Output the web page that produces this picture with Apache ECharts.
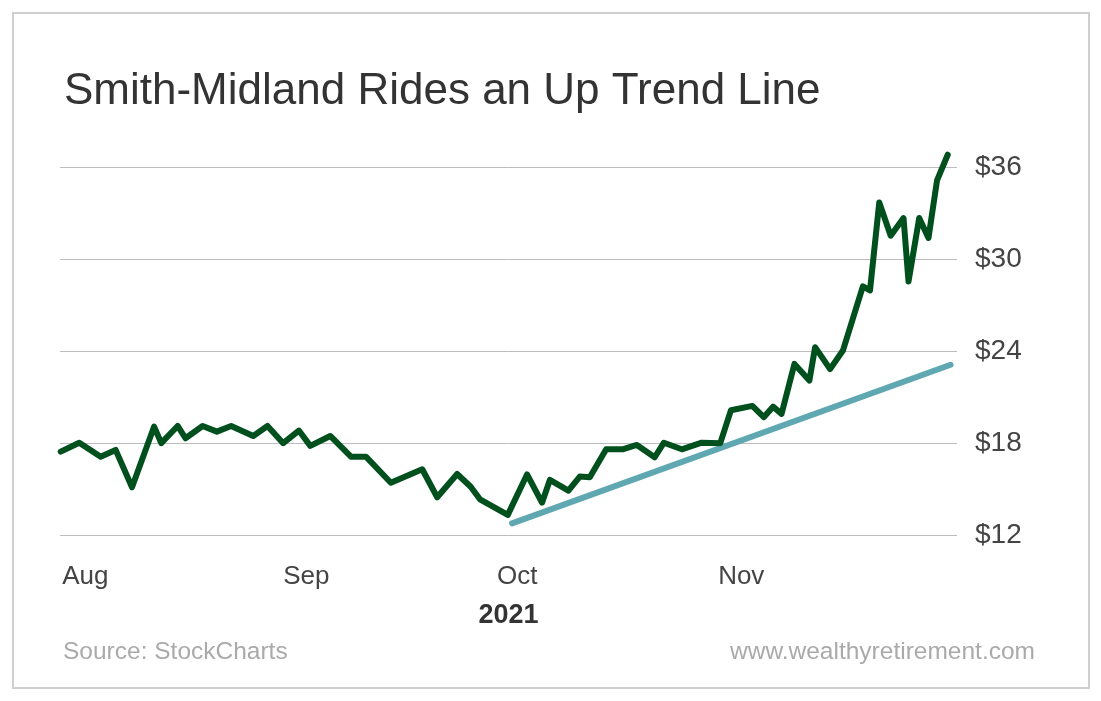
<!DOCTYPE html>
<html>
<head>
<meta charset="utf-8">
<script src="https://cdn.jsdelivr.net/npm/echarts@6/dist/echarts.min.js"></script>
<style>
html,body{margin:0;padding:0;background:#fff;}
#chart{width:1101px;height:701px;}
</style>
</head>
<body>
<div id="chart"></div>
<script>
// Days since Aug 1, 2021
const days = [-0.2, 2.4, 5.4, 7.5, 9.8, 12.9, 13.9, 16.2, 17.3, 19.7, 21.7, 23.7, 26.8, 28.8, 31.0, 33.2, 34.8, 37.6, 40.5, 42.6, 46.1, 50.5, 52.6, 55.4, 57.3, 58.6, 62.5, 65.2, 67.3, 68.4, 71.0, 72.6, 74.0, 76.3, 78.6, 80.6, 83.1, 84.4, 86.9, 89.7, 92.3, 93.8, 96.8, 98.4, 99.7, 100.9, 102.7, 104.8, 105.6, 107.7, 109.5, 112.3, 113.3, 114.6, 116.2, 118.0, 118.7, 120.2, 121.5, 122.7, 124.2];
const prices = [17.44, 18.02, 17.11, 17.55, 15.11, 19.07, 17.99, 19.11, 18.31, 19.11, 18.74, 19.11, 18.46, 19.11, 17.99, 18.81, 17.81, 18.46, 17.11, 17.11, 15.41, 16.29, 14.46, 15.98, 15.15, 14.33, 13.31, 15.95, 14.11, 15.59, 14.89, 15.81, 15.77, 17.59, 17.59, 17.87, 17.07, 18.02, 17.59, 18.02, 17.99, 20.14, 20.42, 19.68, 20.37, 19.90, 23.16, 22.07, 24.25, 22.82, 24.03, 28.21, 27.95, 33.69, 31.52, 32.67, 28.53, 32.67, 31.37, 35.13, 36.80];
const trendDays = [63.1, 124.6];
const trendPrices = [12.76, 23.10];
const monthTicks = [0, 31, 61, 92];
const monthLabels = ['Aug', 'Sep', 'Oct', 'Nov'];
const yearLabel = '2021';
const yTicks = [12, 18, 24, 30, 36];

const chart = echarts.init(document.getElementById('chart'));
const lineData = days.map((d, i) => [d, prices[i]]);
const trendData = trendDays.map((d, i) => [d, trendPrices[i]]);

chart.setOption({
  backgroundColor: '#fff',
  animation: false,
  title: [
    { text: 'Smith-Midland Rides an Up Trend Line', left: 59, top: 65,
      textStyle: { fontFamily: 'Liberation Sans', fontSize: 44, fontWeight: 'normal', color: '#333' } },
    { text: 'Source: StockCharts', left: 58, top: 635,
      textStyle: { fontFamily: 'Liberation Sans', fontSize: 24.5, fontWeight: 'normal', color: '#aaa' } },
    { text: 'www.wealthyretirement.com', right: 61, top: 635,
      textStyle: { fontFamily: 'Liberation Sans', fontSize: 24.5, fontWeight: 'normal', color: '#aaa' } }
  ],
  graphic: [
    { type: 'rect', shape: { x: 13, y: 13, width: 1076, height: 675 },
      style: { fill: 'none', stroke: '#cfcfcf', lineWidth: 2 }, silent: true }
  ],
  grid: { left: 60, right: 144, top: 167, bottom: 166 },
  xAxis: {
    type: 'value', min: -0.3, max: 125.5,
    name: yearLabel, nameLocation: 'middle', nameGap: 67,
    nameTextStyle: { fontFamily: 'Liberation Sans', fontSize: 27, fontWeight: 'bold', color: '#333' },
    axisLine: { show: false }, axisTick: { show: false }, splitLine: { show: false },
    axisLabel: {
      customValues: monthTicks,
      formatter: v => monthLabels[monthTicks.indexOf(v)] || '',
      align: 'left', margin: 29,
      fontFamily: 'Liberation Sans', fontSize: 26, color: '#444'
    }
  },
  yAxis: {
    type: 'value', position: 'right', min: 12, max: 36, interval: 6,
    axisLine: { show: false }, axisTick: { show: false },
    splitLine: { lineStyle: { color: '#bdbdbd', width: 1 } },
    axisLabel: {
      formatter: v => yTicks.includes(v) ? '$' + v : '',
      margin: 18, fontFamily: 'Liberation Sans', fontSize: 28, color: '#444',
      padding: [8, 0, 0, 0]
    }
  },
  series: [
    { type: 'line', data: trendData, symbol: 'none', clip: false,
      lineStyle: { color: '#5fa8b1', width: 6, cap: 'round' }, z: 2 },
    { type: 'line', data: lineData, symbol: 'none', clip: false,
      lineStyle: { color: '#00501e', width: 6, cap: 'round', join: 'round' }, z: 3 }
  ]
});
</script>
</body>
</html>
